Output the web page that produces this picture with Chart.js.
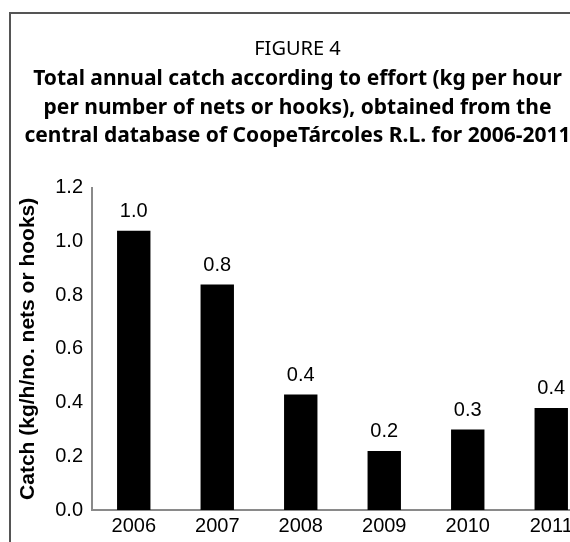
<!DOCTYPE html>
<html>
<head>
<meta charset="utf-8">
<script src="https://cdn.jsdelivr.net/npm/chart.js@4/dist/chart.umd.min.js"></script>
<style>
  body { margin: 0; overflow: hidden; background: #fff; }
  #frame { position: absolute; left: 9px; top: 12px; width: 600px; height: 600px; border-top: 2px solid #555; border-left: 2px solid #555; }
  #chartcanvas { position: absolute; left: 0; top: 0; }
</style>
</head>
<body>
<div id="frame"></div>
<canvas id="chartcanvas" width="594" height="542"></canvas>
<script>
var years = ["2006","2007","2008","2009","2010","2011"];
var catchPerEffort = [1.04, 0.84, 0.43, 0.22, 0.30, 0.38];
var yTicks = [0, 0.2, 0.4, 0.6, 0.8, 1.0, 1.2];

var figureLabel = "FIGURE 4";
var captionLines = [
	"Total annual catch according to effort (kg per hour",
	"per number of nets or hooks), obtained from the",
	"central database of CoopeTárcoles R.L. for 2006-2011"
];
var yTitle = "Catch (kg/h/no. nets or hooks)";

// value labels above each bar
var barValues = {
	id: "barValues",
	afterDatasetsDraw: function(chart) {
		var ctx = chart.ctx;
		var meta = chart.getDatasetMeta(0);
		ctx.save();
		ctx.font = "20px 'Liberation Sans', Arial, sans-serif";
		ctx.fillStyle = "#000";
		ctx.textAlign = "center";
		ctx.textBaseline = "middle";
		meta.data.forEach(function(bar, i) {
			var v = chart.data.datasets[0].data[i];
			ctx.fillText(v.toFixed(1), bar.x, bar.y - 19);
		});
		ctx.restore();
	}
};

var ctx = document.getElementById("chartcanvas").getContext("2d");
var myChart = new Chart(ctx, {
	type: "bar",
	data: {
		labels: years,
		datasets: [{
			data: catchPerEffort,
			backgroundColor: "#000",
			borderWidth: 0,
			barPercentage: 0.8,
			categoryPercentage: 0.5
		}]
	},
	options: {
		responsive: false,
		animation: false,
		layout: { padding: { left: 2, right: 1, top: 0, bottom: 0 } },
		plugins: {
			legend: { display: false },
			tooltip: { enabled: false },
			title: {
				display: true,
				text: figureLabel,
				color: "#000",
				font: { family: "'Noto Sans', sans-serif", size: 20, weight: "normal" },
				padding: { top: 37, bottom: 4 }
			},
			subtitle: {
				display: true,
				text: captionLines,
				color: "#000",
				font: { family: "'Noto Sans', sans-serif", size: 21, weight: "bold", lineHeight: 1.36 },
				padding: { top: 0, bottom: 37 }
			}
		},
		scales: {
			x: {
				grid: { display: false, drawTicks: false },
				border: { display: true, color: "#8a8a8a", width: 2 },
				ticks: {
					color: "#000",
					padding: 4,
					font: { family: "'Liberation Sans', Arial, sans-serif", size: 20 }
				}
			},
			y: {
				min: 0,
				max: 1.2,
				afterBuildTicks: function(axis) {
					axis.ticks = yTicks.map(function(v) { return { value: v }; });
				},
				grid: { display: false, drawTicks: false },
				border: { display: true, color: "#8a8a8a", width: 2 },
				ticks: {
					color: "#000",
					padding: 9,
					font: { family: "'Liberation Sans', Arial, sans-serif", size: 20 },
					callback: function(v) { return Number(v).toFixed(1); }
				},
				title: {
					display: true,
					text: yTitle,
					color: "#000",
					font: { family: "'Liberation Sans', Arial, sans-serif", size: 21, weight: "bold" },
					padding: { top: 14, bottom: 5 }
				}
			}
		}
	},
	plugins: [barValues]
});
</script>
</body>
</html>
